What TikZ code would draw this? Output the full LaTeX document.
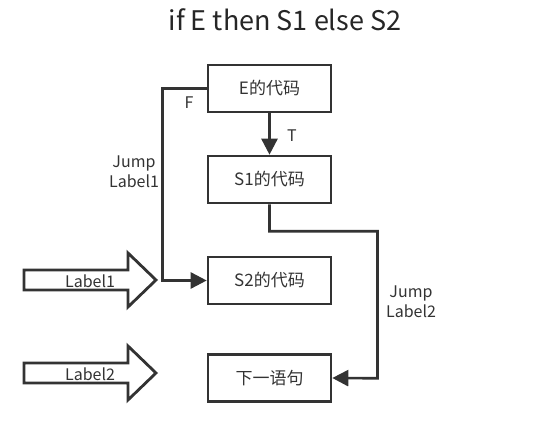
\documentclass[tikz,border=0pt]{standalone}
\usepackage{fontspec}
\setmainfont{Noto Sans CJK SC}
\usetikzlibrary{arrows.meta}
\begin{document}
\begin{tikzpicture}[x=1pt,y=-1pt,
  box/.style={draw=black!80,line width=2.6pt,minimum width=123pt,minimum height=47pt,inner sep=0pt,font=\fontsize{17}{19}\selectfont,text=black!80},
  conn/.style={draw=black!80,line width=2.6pt},
  arr/.style={conn,-{Triangle[length=16pt,width=16pt]}},
  lbl/.style={font=\fontsize{16}{20}\selectfont,text=black!80,align=center,inner sep=0pt},
  blk/.style={draw=black!80,line width=2.8pt,fill=white,line join=miter}]
\useasboundingbox (0,0) rectangle (544,422);
\node[font=\fontsize{27}{30}\selectfont,text=black!85] (title) at (285,20) {if E then S1 else S2};
\node[box] (E) at (269.5,88.5) {E的代码};
\node[box] (S1) at (269.5,179.5) {S1的代码};
\node[box] (S2) at (269.5,280.5) {S2的代码};
\node[box] (N) at (269.5,378) {下一语句};
\draw[arr] (E.south) -- (S1.north);
\node[lbl] (T) at (292,136) {T};
\draw[arr] (E.west) -- ++(-44,0) |- (S2.west);
\node[lbl] (F) at (189,103) {F};
\node[lbl] (J1) at (134,172) {Jump\\Label1};
\draw[arr] (S1.south) -- ++(0,27) -| ++(108,147) -- (N.east);
\node[lbl] (J2) at (411,302) {Jump\\Label2};
\draw[blk] (24,270) -- (128,270) -- (128,253) -- (156,280) -- (128,307) -- (128,290) -- (24,290) -- cycle;
\node[lbl] (L1) at (90,281) {Label1};
\draw[blk] (24,363) -- (128,363) -- (128,346) -- (156,373) -- (128,400) -- (128,383) -- (24,383) -- cycle;
\node[lbl] (L2) at (90,374) {Label2};
\end{tikzpicture}
\end{document}
